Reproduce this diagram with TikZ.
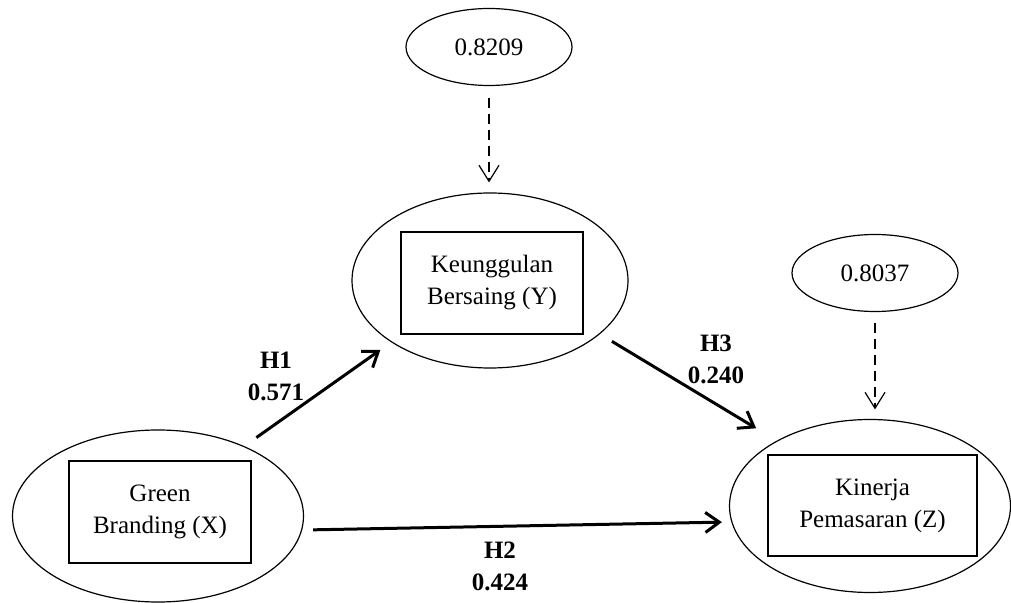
\documentclass[tikz,border=0pt]{standalone}
\usepackage{fontspec}
\setmainfont{Liberation Serif}
\usepackage{tikz}
\usetikzlibrary{arrows.meta,shapes.geometric}
\tikzstyle{latent} = [ellipse, draw, line width=0.6pt, inner sep=0pt]
\tikzstyle{errterm} = [ellipse, draw, line width=0.6pt, inner sep=0pt, minimum width=83pt, minimum height=38.5pt]
\tikzstyle{indicator} = [rectangle, draw, line width=0.8pt, align=center, inner sep=0pt, minimum width=91pt, minimum height=51pt]
\tikzstyle{hyp} = [line width=1.5pt, -{Straight Barb[length=7pt,width=10pt]}]
\tikzstyle{resid} = [line width=0.6pt, dash pattern=on 5pt off 3pt, -{Straight Barb[length=8pt,width=10pt]}]
\tikzstyle{coef} = [align=center, font=\fontsize{12.5}{16}\selectfont\bfseries]

\begin{document}
\begin{tikzpicture}[x=0.5pt,y=-0.5pt,font=\fontsize{12.5}{16}\selectfont]
  \useasboundingbox (0,0) rectangle (1011,603);
  % latent variables with their indicator boxes
  \node[latent, minimum width=145.5pt, minimum height=86pt] (X) at (158,516) {};
  \node[indicator] (Xbox) at (160,512) {Green\\Branding (X)};
  \node[latent, minimum width=138pt, minimum height=87.5pt] (Y) at (490,280.5) {};
  \node[indicator] (Ybox) at (492,283) {Keunggulan\\Bersaing (Y)};
  \node[latent, minimum width=140.5pt, minimum height=86.5pt] (Z) at (870,506) {};
  \node[indicator, minimum width=104.5pt, minimum height=50.5pt] (Zbox) at (872.5,505.5) {Kinerja\\Pemasaran (Z)};
  % error terms
  \node[errterm] (eY) at (489,47) {0.8209};
  \node[errterm] (eZ) at (875,273) {0.8037};
  \draw[resid, shorten <=5.75pt, shorten >=5pt] (eY.south) -- (eY.south |- Y.north);
  \draw[resid, shorten <=5.25pt, shorten >=4.75pt] (eZ.south) -- (eZ.south |- Z.north);
  % paths
  \draw[hyp, shorten <=7.4pt, shorten >=6.6pt] (X.39.2) -- (Y.212.8);
  \draw[hyp, shorten <=7pt, shorten >=12pt] (Y.-26) -- (Z.145.6);
  \draw[hyp, shorten <=4.5pt, shorten >=3.5pt] ([yshift=-7pt]X.east) -- ([yshift=-8pt]Z.west);
  \node[coef] (h1) at (276,376) {H1\\0.571};
  \node[coef] (h3) at (716,359) {H3\\0.240};
  \node[coef] (h2) at (500,566) {H2\\0.424};
\end{tikzpicture}
\end{document}
